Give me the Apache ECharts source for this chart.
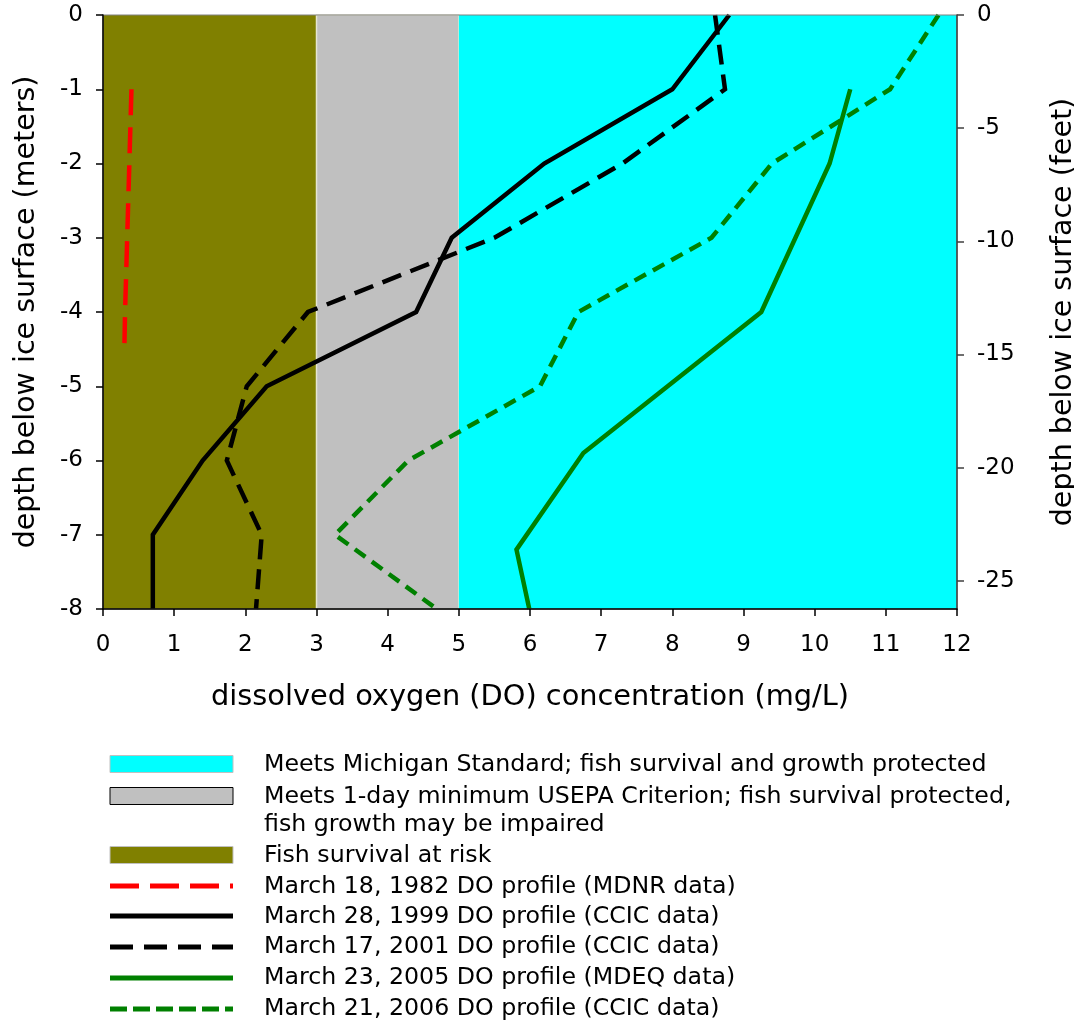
<!DOCTYPE html>
<html>
<head>
<meta charset="utf-8">
<script src="https://cdn.jsdelivr.net/npm/echarts@6/dist/echarts.min.js"></script>
<style>
html,body{margin:0;padding:0;background:#fff;}
#chart{width:1074px;height:1026px;}
</style>
</head>
<body>
<div id="chart"></div>
<script>
// ---- Data ----
const xTicks = [0,1,2,3,4,5,6,7,8,9,10,11,12];
const metersTicks = [0,-1,-2,-3,-4,-5,-6,-7,-8];
const feetTicks = [0,-5,-10,-15,-20,-25];

// DO threshold bands (mg/L)
const bandFrom = [0, 3, 5];
const bandTo = [3, 5, 12];
const bandNames = ['Fish survival at risk',
  'Meets 1-day minimum USEPA Criterion; fish survival protected,\nfish growth may be impaired',
  'Meets Michigan Standard; fish survival and growth protected'];

// Profiles: depth (m) and DO (mg/L)
const depth1982 = [-1, -2, -3, -4, -4.5];
const do1982    = [0.40, 0.37, 0.34, 0.31, 0.30];

const depth1999 = [0, -1, -2, -3, -4, -5, -6, -7, -8];
const do1999    = [8.8, 8.0, 6.2, 4.9, 4.4, 2.3, 1.4, 0.7, 0.7];

const depth2001 = [0, -1, -2, -3, -4, -5, -6, -7, -8];
const do2001    = [8.6, 8.74, 7.3, 5.5, 2.88, 2.02, 1.74, 2.23, 2.15];

const depth2005 = [-1, -2, -4, -5.9, -7.2, -8];
const do2005    = [10.5, 10.21, 9.25, 6.75, 5.81, 5.99];

const depth2006 = [0, -1, -2, -3, -4, -5, -6, -7, -8];
const do2006    = [11.74, 11.06, 9.40, 8.55, 6.68, 6.14, 4.29, 3.26, 4.69];

const seriesNames = [
  'March 18, 1982 DO profile (MDNR data)',
  'March 28, 1999 DO profile (CCIC data)',
  'March 17, 2001 DO profile (CCIC data)',
  'March 23, 2005 DO profile (MDEQ data)',
  'March 21, 2006 DO profile (CCIC data)'
];

// ---- Styles ----
const FONT = 'DejaVu Sans';
const bandColors = ['#808000', '#C0C0C0', '#00FFFF'];
const M_TO_FT = 3.28084;

function pairs(xs, ys){ return xs.map((x,i)=>[x, ys[i]]); }

const chart = echarts.init(document.getElementById('chart'), null, {renderer:'canvas'});

function lineSeries(name, xs, ys, color, dash){
  return {
    name, type:'line', data: pairs(xs, ys), xAxisIndex:0, yAxisIndex:0,
    showSymbol:false, symbol:'none', z:3, animation:false,
    lineStyle:{color, width:4.5, type: dash || 'solid', cap:'butt', join:'miter'}
  };
}

const L = 264; // legend text x
const legendGraphics = [];
function legRect(y, fill, stroke){
  legendGraphics.push({type:'rect', shape:{x:110,y:y-8.5,width:123,height:17},
    style:{fill, stroke, lineWidth:1}});
}
function legLine(y, color, dash, w){
  legendGraphics.push({type:'line', shape:{x1:110,y1:y,x2:233,y2:y},
    style:{stroke:color, lineWidth:w||5, lineDash:dash||null}});
}
function legText(y, txt){
  legendGraphics.push({type:'text', x:L, y:y, style:{text:txt, fill:'#000',
    font:'23.7px "' + FONT + '"', textVerticalAlign:'middle', lineHeight:28}});
}
legRect(764, bandColors[2], '#c0c0c0'); legText(765, bandNames[2]);
legRect(796, bandColors[1], '#000');    legText(811, bandNames[1]);
legRect(855, bandColors[0], '#c0c0c0'); legText(856, bandNames[0]);
legLine(886, '#ff0000', [29,11], 5); legText(887, seriesNames[0]);
legLine(916, '#000000', null, 5);    legText(917, seriesNames[1]);
legLine(947, '#000000', [23,11], 5); legText(947, seriesNames[2]);
legLine(978, '#008000', null, 5);    legText(978, seriesNames[3]);
legLine(1009, '#008000', [17,6], 5); legText(1009, seriesNames[4]);

const option = {
  animation:false,
  backgroundColor:'#fff',
  textStyle:{fontFamily:FONT},
  grid:{left:103, top:15, width:854, height:594, show:true, borderColor:'#808080', borderWidth:1,
    backgroundColor:'transparent', z:10, containLabel:false, outerBoundsMode:'none'},
  xAxis:{
    type:'value', min:0, max:12, interval:1, z:10,
    name:'dissolved oxygen (DO) concentration (mg/L)', nameLocation:'middle', nameGap:74,
    nameTextStyle:{fontSize:28.8, color:'#000', fontFamily:FONT},
    axisLine:{show:true, onZero:false, lineStyle:{color:'#000', width:1.5}},
    axisTick:{show:true, length:7, lineStyle:{color:'#000', width:1.5}},
    axisLabel:{fontSize:23, color:'#000', margin:25, fontFamily:FONT},
    splitLine:{show:false}
  },
  yAxis:[{
    type:'value', min:-8, max:0, interval:1, position:'left', z:10,
    name:'depth below ice surface (meters)', nameLocation:'middle', nameGap:62, nameRotate:90,
    nameTextStyle:{fontSize:28.5, color:'#000', fontFamily:FONT},
    axisLine:{show:true, onZero:false, lineStyle:{color:'#000', width:1.5}},
    axisTick:{show:true, length:7, lineStyle:{color:'#000', width:1.5}},
    axisLabel:{fontSize:23, color:'#000', margin:20, fontFamily:FONT},
    splitLine:{show:false}
  },{
    type:'value', min:-8*M_TO_FT, max:0, position:'right', z:10,
    name:'depth below ice surface (feet)', nameLocation:'middle', nameGap:92, nameRotate:90,
    nameTextStyle:{fontSize:28.5, color:'#000', fontFamily:FONT},
    axisLine:{show:true, onZero:false, lineStyle:{color:'#404040', width:1.5}},
    axisTick:{show:true, length:7, customValues:feetTicks, lineStyle:{color:'#404040', width:1.5}},
    axisLabel:{fontSize:23, color:'#000', margin:20, customValues:feetTicks, fontFamily:FONT},
    splitLine:{show:false}
  }],
  graphic: legendGraphics,
  series:[
    {
      name:'bands', type:'custom', z:1, silent:true,
      data: bandFrom.map((f,i)=>[f, bandTo[i], i]),
      renderItem:function(params, api){
        const a = api.coord([api.value(0), 0]);
        const b = api.coord([api.value(1), -8]);
        const idx = api.value(2);
        return {type:'rect', shape:{x:a[0], y:a[1], width:b[0]-a[0], height:b[1]-a[1]},
          style:{fill: bandColors[idx], stroke: idx===1 ? '#e6e6d0' : null, lineWidth: idx===1 ? 1.5 : 0}};
      }
    },
    lineSeries(seriesNames[0], do1982, depth1982, '#ff0000', [26,12]),
    lineSeries(seriesNames[1], do1999, depth1999, '#000000'),
    lineSeries(seriesNames[2], do2001, depth2001, '#000000', [20,10]),
    lineSeries(seriesNames[3], do2005, depth2005, '#008000'),
    lineSeries(seriesNames[4], do2006, depth2006, '#008000', [13,8])
  ]
};
chart.setOption(option);
</script>
</body>
</html>
